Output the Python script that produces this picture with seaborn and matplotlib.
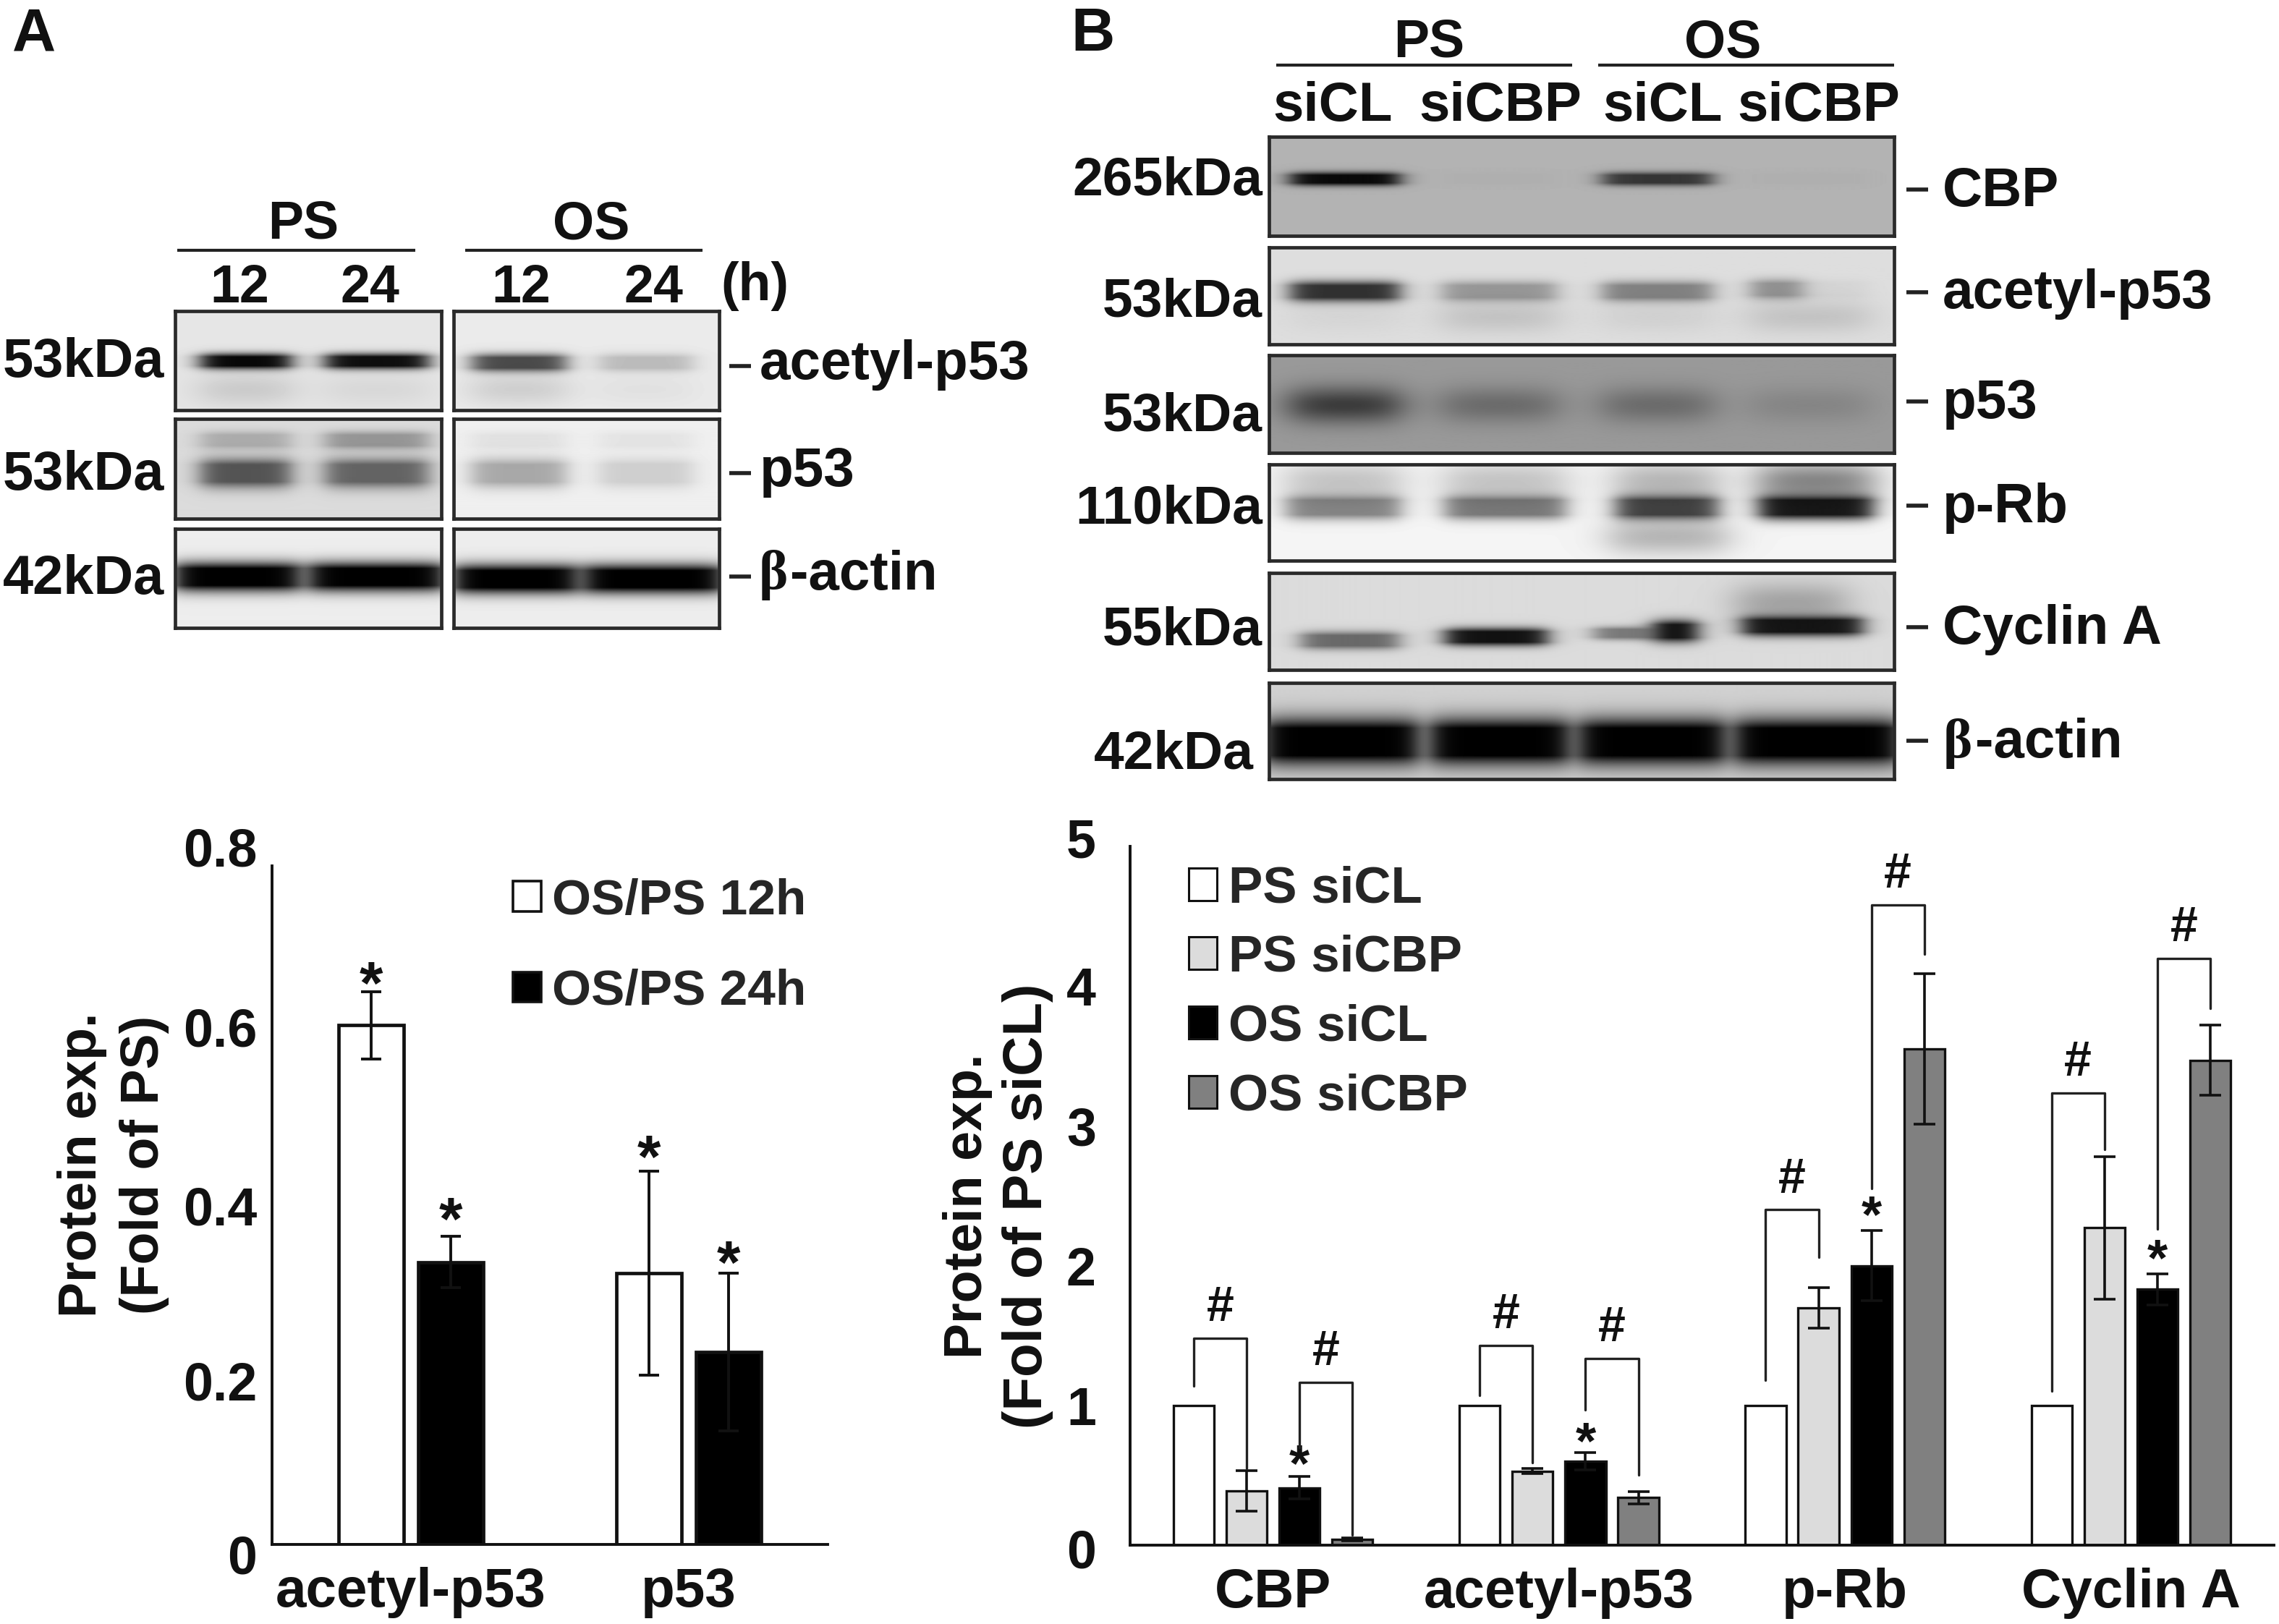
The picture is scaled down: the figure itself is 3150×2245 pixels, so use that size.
import numpy as np
import pandas as pd
import matplotlib
matplotlib.use("Agg")
import matplotlib.pyplot as plt
from matplotlib.patches import Patch
from matplotlib.transforms import ScaledTranslation
import seaborn as sns

# ---------- data ----------
a_proteins = ["acetyl-p53", "p53"]
a_groups = ["OS/PS 12h", "OS/PS 24h"]
a_12h = [0.612, 0.32]
a_24h = [0.333, 0.227]
a_12h_err = [0.04, 0.12]
a_24h_err = [0.03, 0.093]

b_proteins = ["CBP", "acetyl-p53", "p-Rb", "Cyclin A"]
b_groups = ["PS siCL", "PS siCBP", "OS siCL", "OS siCBP"]
b_ps_sicl = [1, 1, 1, 1]
b_ps_sicbp = [0.39, 0.53, 1.70, 2.27]
b_os_sicl = [0.41, 0.60, 2.00, 1.83]
b_os_sicbp = [0.04, 0.34, 3.55, 3.47]
b_ps_sicl_err = [0, 0, 0, 0]
b_ps_sicbp_err = [0.145, 0.02, 0.145, 0.51]
b_os_sicl_err = [0.08, 0.06, 0.25, 0.11]
b_os_sicbp_err = [0.01, 0.045, 0.54, 0.25]

# significance: (protein index, first bar, second bar, top, left end, right end)
b_brackets = [
    (0, 0, 1, 1.48, 1.14, 0.55), (0, 2, 3, 1.165, 0.70, 0.07),
    (1, 0, 1, 1.43, 1.07, 0.59), (1, 2, 3, 1.335, 0.97, 0.50),
    (2, 0, 1, 2.40, 1.18, 2.06), (2, 2, 3, 4.58, 2.55, 4.23),
    (3, 0, 1, 3.235, 1.10, 2.83), (3, 2, 3, 4.20, 2.26, 3.84),
]
b_star_height = [0.56, 0.72, 2.34, 2.03]
a_star_12h = [0.656, 0.451]
a_star_24h = [0.378, 0.327]

# blot band strengths, one per lane
a_acetyl = [0.97, 0.94, 0.68, 0.20]
a_acetyl_smear = [0.12, 0.06, 0.12, 0.04]
a_p53 = [0.62, 0.55, 0.30, 0.14]
a_p53_upper = [0.22, 0.32, 0.06, 0.05]
a_actin = [1.0, 1.0, 1.0, 1.0]
b_cbp = [0.95, 0.02, 0.70, 0.02]
b_acetyl = [0.78, 0.32, 0.42, 0.36, 0.04]
b_acetyl_smear = [0.04, 0.12, 0.06, 0.12]
b_p53 = [0.62, 0.30, 0.30, 0.13]
b_prb = [0.45, 0.50, 0.72, 0.90]
b_prb_upper = [0.20, 0.20, 0.26, 0.46]
b_prb_lower = [0.26]
b_cyclin = [0.52, 0.92, 0.45, 0.96, 0.90]
b_cyclin_upper = [0.26]
b_actin = [1.0, 1.0, 1.0, 1.0]

# ---------- layout ----------
W, H = 3150, 2245
sns.set_theme(style="white")
plt.rcParams["font.family"] = ["Liberation Sans", "DejaVu Sans"]
plt.rcParams["font.weight"] = "bold"
plt.rcParams["axes.labelweight"] = "bold"
fig = plt.figure(figsize=(W / 100, H / 100), dpi=100, facecolor="white")
INK = "#111111"


def axes_px(x0, y0, x1, y1, **kw):
    return fig.add_axes([x0 / W, 1 - y1 / H, (x1 - x0) / W, (y1 - y0) / H], **kw)


def blot(x0, y0, x1, y1, bg, rows):
    """rows: (strengths, lane spans, band y, band sigma)"""
    ax = axes_px(x0, y0, x1, y1)
    xx, yy = np.meshgrid(np.arange(x0, x1), np.arange(y0, y1))
    img = np.full(xx.shape, float(bg))
    for strengths, spans, y, sig in rows:
        soft = sig >= 14 and max(strengths) < 0.9
        for s, (a, b) in zip(strengths, spans):
            e = 16 if soft else 9
            prof_x = 1 / (1 + np.exp(-(xx - a) / e)) * 1 / (1 + np.exp((xx - b) / e))
            g = np.exp(-0.5 * ((yy - y) / sig) ** 2) * (1 if soft else 1.5)
            img *= 1 - s * prof_x * np.minimum(1, g)
    ax.imshow(img, cmap="gray", vmin=0, vmax=1, aspect="auto")
    ax.set_xticks([])
    ax.set_yticks([])
    for sp in ax.spines.values():
        sp.set_visible(True)
        sp.set_linewidth(3.4)
        sp.set_color("#2a2a2a")
    return ax


# panel A blots
la1 = [(277, 402), (449, 592)]
la2 = [(652, 782), (828, 957)]
blot(242, 430, 610, 567, 0.90, [(a_acetyl[:2], la1, 499, 7), (a_acetyl_smear[:2], la1, 538, 16)])
blot(627, 430, 994, 567, 0.92, [(a_acetyl[2:], la2, 501, 8), (a_acetyl_smear[2:], la2, 538, 16)])
blot(242, 579, 610, 717, 0.86, [(a_p53[:2], la1, 654, 13), (a_p53_upper[:2], la1, 609, 8)])
blot(627, 579, 994, 717, 0.94, [(a_p53[2:], la2, 654, 13), (a_p53_upper[2:], la2, 609, 8)])
blot(242, 731, 610, 868, 0.93, [(a_actin[:2], [(240, 416), (425, 615)], 797, 13)])
blot(627, 731, 994, 868, 0.93, [(a_actin[2:], [(625, 800), (805, 1000)], 800, 13)])

# panel B blots
lb = [(1783, 1934), (1993, 2150), (2214, 2365), (2419, 2581)]
lb_prb = [(1778, 1935), (1997, 2163), (2233, 2373), (2430, 2587)]
lb_actin = [(1745, 1962), (1975, 2170), (2180, 2385), (2395, 2625)]
blot(1754, 189, 2618, 326, 0.70, [(b_cbp, lb, 247, 6)])
blot(1754, 342, 2618, 476, 0.87, [(b_acetyl[:3], lb[:3], 403, 9),
                                  (b_acetyl[3:], [(2419, 2490), (2490, 2581)], 400, 9),
                                  (b_acetyl_smear, lb, 438, 16)])
blot(1754, 491, 2618, 626, 0.60, [(b_p53, lb, 560, 18)])
blot(1754, 642, 2618, 775, 0.96, [(b_prb, lb_prb, 701, 11), (b_prb_upper, lb_prb, 665, 20),
                                  (b_prb_lower, [(2225, 2385)], 742, 18)])
blot(1754, 792, 2618, 926, 0.86, [(b_cyclin[:1], [(1798, 1933)], 885, 8),
                                  (b_cyclin[1:2], [(1997, 2138)], 880, 8),
                                  (b_cyclin[2:3], [(2202, 2284)], 875, 6),
                                  (b_cyclin[3:4], [(2284, 2345)], 872, 10),
                                  (b_cyclin[4:5], [(2407, 2573)], 865, 9),
                                  (b_cyclin_upper, [(2400, 2550)], 833, 20)])
blot(1754, 944, 2618, 1077, 0.82, [(b_actin, lb_actin, 1025, 21)])


def bars(rect, proteins, groups, series, palette, ylim, yticks, ylabels, width, gap, err,
         edge, cap, err_lw, pad, tick_shift):
    ax = axes_px(*rect)
    df = pd.DataFrame({
        "protein": np.tile(proteins, len(groups)),
        "group": np.repeat(groups, len(proteins)),
        "value": np.concatenate(series),
    })
    sns.barplot(data=df, x="protein", y="value", hue="group", order=proteins, hue_order=groups,
                palette=palette, width=width, gap=gap, edgecolor=INK, linewidth=edge,
                errorbar=None, legend=False, saturation=1, ax=ax)
    for cont, vals, errs in zip(ax.containers, series, err):
        xs = [p.get_x() + p.get_width() / 2 for p in cont.patches]
        for x, v, e in zip(xs, vals, errs):
            if e > 0:
                ax.errorbar(x, v, yerr=e, color=INK, lw=err_lw, capsize=cap, capthick=err_lw, zorder=5)
    n = len(proteins)
    ax.set_xlim(-0.5, n - 0.5)
    ax.set_ylim(*ylim)
    ax.set_xlabel("")
    ax.set_ylabel("")
    ax.set_yticks(yticks, ylabels)
    ax.set_xticks(range(n), proteins)
    ax.set_xticks(np.arange(n) + 0.5, minor=True)
    ax.tick_params(axis="x", which="major", length=0, labelsize=55, pad=22, colors=INK)
    ax.tick_params(axis="x", which="minor", length=15, width=2.6, direction="in", color=INK)
    ax.tick_params(axis="y", length=15, width=2.6, direction="in", labelsize=53, pad=pad, color=INK,
                   labelcolor=INK)
    for lab, dy in zip(ax.get_yticklabels(), tick_shift):
        lab.set_transform(lab.get_transform() + ScaledTranslation(0, -dy / 100, fig.dpi_scale_trans))
    sns.despine(ax=ax)
    for s in ("left", "bottom"):
        ax.spines[s].set_linewidth(2.8)
        ax.spines[s].set_color(INK)
    ax.patch.set_alpha(0)
    return ax


ax_a = bars((376, 1197, 1144, 2135), a_proteins, a_groups, [a_12h, a_24h],
            ["white", "black"], (0, 0.8), [0, 0.2, 0.4, 0.6, 0.8], ["0", "0.2", "0.4", "0.6", "0.8"],
            0.572, 0.18, [a_12h_err, a_24h_err], 3.4, 10, 2.8, 15, [14, 8, 0, -12, -26])
ax_b = bars((1562, 1170, 3143, 2136), b_proteins, b_groups,
            [b_ps_sicl, b_ps_sicbp, b_os_sicl, b_os_sicbp],
            ["white", "#dcdcdc", "black", "#808080"], (0, 5), range(6), [str(i) for i in range(6)],
            0.74, 0.23, [b_ps_sicl_err, b_ps_sicbp_err, b_os_sicl_err, b_os_sicbp_err],
            2.4, 11, 2.6, 34, [4, 0, 0, 0, 0, -11])

# stars in A
for cont, stars in zip(ax_a.containers, [a_star_12h, a_star_24h]):
    for p, y in zip(cont.patches, stars):
        ax_a.text(p.get_x() + p.get_width() / 2, y, "*", ha="center", va="center", fontsize=60, color=INK)

# brackets, hashes and stars in B
for prot, i, j, top, lo_l, lo_r in b_brackets:
    xi = ax_b.containers[i].patches[prot]
    xj = ax_b.containers[j].patches[prot]
    x1, x2 = xi.get_x() + xi.get_width() / 2, xj.get_x() + xj.get_width() / 2
    ax_b.plot([x1, x1, x2, x2], [lo_l, top, top, lo_r], color="#222222", lw=2.4, zorder=6,
              solid_joinstyle="round")
    ax_b.text((x1 + x2) / 2, top + 0.05, "#", ha="center", va="bottom", fontsize=49, color=INK)
for p, y in zip(ax_b.containers[2].patches, b_star_height):
    ax_b.text(p.get_x() + p.get_width() / 2, y, "*", ha="center", va="center", fontsize=52, color=INK)

# legends
a_handles = [Patch(facecolor=c, edgecolor=INK, linewidth=2.6) for c in ["white", "black"]]
ax_a.legend(a_handles, a_groups, loc="upper left", frameon=False, fontsize=50,
            bbox_to_anchor=(695 / W, 1 - 1200 / H), bbox_transform=fig.transFigure,
            handlelength=0.56, handleheight=0.55, handletextpad=0.22, labelspacing=0.88,
            borderaxespad=0, borderpad=0.2)
b_handles = [Patch(facecolor=c, edgecolor=INK, linewidth=2.2) for c in ["white", "#dcdcdc", "black", "#808080"]]
ax_b.legend(b_handles, b_groups, loc="upper left", frameon=False, fontsize=51,
            bbox_to_anchor=(1629 / W, 1 - 1182 / H), bbox_transform=fig.transFigure,
            handlelength=0.55, handleheight=0.6, handletextpad=0.22, labelspacing=0.42,
            borderaxespad=0, borderpad=0.2)

# overlay for annotation text, in pixels
ov = fig.add_axes([0, 0, 1, 1], zorder=20)
ov.set_xlim(0, W)
ov.set_ylim(H, 0)
ov.axis("off")


def t(x, y, s, size=53, ha="center", va="center", **kw):
    ov.text(x, y, s, fontsize=size, ha=ha, va=va, color=INK, **kw)


def line(x0, x1, y, lw=3):
    ov.plot([x0, x1], [y, y], color="#222222", lw=lw, solid_capstyle="butt")


t(47, 48, "A", 60)
t(1510, 48, "B", 60)

# panel A headers and labels
t(419, 311, "PS")
t(817, 311, "OS")
line(245, 574, 346)
line(643, 971, 346)
for x, s in zip([331, 511, 720, 903], ["12", "24", "12", "24"]):
    t(x, 398, s)
t(1043, 396, "(h)")
for y, s in zip([502, 657, 802], ["53kDa", "53kDa", "42kDa"]):
    t(227, y, s, 54.5, ha="right")
for y, s in zip([504, 652], ["acetyl-p53", "p53"]):
    line(1008, 1038, y + 2, 4)
    t(1050, y, s, 55, ha="left")
line(1008, 1038, 797, 4)
t(1049, 795, "β", 55, ha="left", family=["Liberation Serif"])
t(1092, 795, "-actin", 55, ha="left")

# panel B headers and labels
t(1975, 60, "PS")
t(2381, 60, "OS")
line(1764, 2173, 90)
line(2209, 2618, 90)
for x, s in zip([1842, 2074, 2298, 2514], ["siCL", "siCBP", "siCL", "siCBP"]):
    t(x, 148, s, 55)
for x, y, s in zip([1745, 1745, 1745, 1745, 1745, 1733], [250, 418, 576, 704, 872, 1043],
                   ["265kDa", "53kDa", "53kDa", "110kDa", "55kDa", "42kDa"]):
    t(x, y, s, 54, ha="right")
for y, s in zip([265, 407, 558, 702, 870], ["CBP", "acetyl-p53", "p53", "p-Rb", "Cyclin A"]):
    line(2635, 2665, y - 3, 4)
    t(2685, y, s, 55, ha="left")
line(2635, 2665, 1024, 4)
t(2686, 1028, "β", 55, ha="left", family=["Liberation Serif"])
t(2730, 1028, "-actin", 55, ha="left")

# axis titles
t(113, 1610, "Protein exp.", 53, rotation=90)
t(199, 1610, "(Fold of PS)", 53, rotation=90)
t(1338, 1667, "Protein exp.", 53, rotation=90)
t(1420, 1667, "(Fold of PS siCL)", 55, rotation=90)

fig.savefig("out.png", dpi=100, facecolor="white")
